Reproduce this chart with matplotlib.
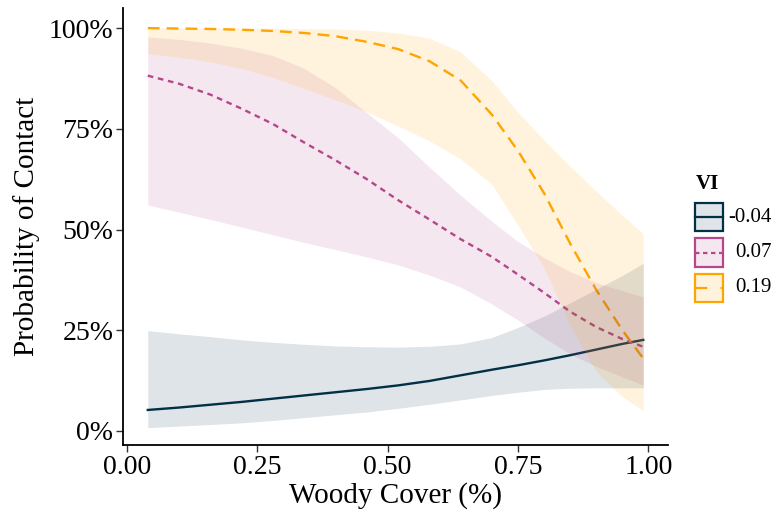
import matplotlib
matplotlib.use("Agg")
import matplotlib.pyplot as plt
from matplotlib.patches import Rectangle
from matplotlib.lines import Line2D
from matplotlib.ticker import FuncFormatter

plt.rcParams["font.family"] = ["Liberation Serif", "DejaVu Serif"]

# woody cover grid shared by every curve
woody = [0.04, 0.10, 0.16, 0.22, 0.28, 0.34, 0.40, 0.46, 0.52,
         0.58, 0.64, 0.70, 0.75, 0.80, 0.85, 0.90, 0.95, 0.99]

# VI = -0.04
fit_neg = [0.052, 0.058, 0.065, 0.072, 0.080, 0.088, 0.096, 0.104, 0.113,
           0.124, 0.138, 0.152, 0.163, 0.175, 0.188, 0.202, 0.216, 0.226]
hi_neg = [0.249, 0.241, 0.234, 0.226, 0.220, 0.215, 0.211, 0.209, 0.208,
          0.210, 0.216, 0.232, 0.257, 0.285, 0.318, 0.352, 0.386, 0.416]
lo_neg = [0.008, 0.012, 0.016, 0.020, 0.026, 0.033, 0.040, 0.047, 0.056,
          0.066, 0.077, 0.088, 0.096, 0.103, 0.106, 0.107, 0.107, 0.107]

# VI = 0.07
fit_mid = [0.882, 0.862, 0.835, 0.800, 0.762, 0.716, 0.672, 0.625, 0.573,
           0.525, 0.476, 0.432, 0.388, 0.343, 0.296, 0.258, 0.228, 0.209]
hi_mid = [0.978, 0.972, 0.963, 0.950, 0.932, 0.900, 0.852, 0.790, 0.728,
          0.655, 0.585, 0.520, 0.470, 0.430, 0.395, 0.368, 0.348, 0.333]
lo_mid = [0.561, 0.543, 0.525, 0.506, 0.487, 0.468, 0.450, 0.432, 0.412,
          0.387, 0.357, 0.315, 0.275, 0.231, 0.191, 0.160, 0.134, 0.114]

# VI = 0.19
fit_hi = [1.000, 0.999, 0.998, 0.996, 0.993, 0.988, 0.980, 0.966, 0.948,
          0.918, 0.870, 0.785, 0.695, 0.590, 0.465, 0.350, 0.250, 0.180]
hi_hi = [1.000, 1.000, 1.000, 1.000, 1.000, 0.999, 0.998, 0.995, 0.988,
         0.975, 0.941, 0.869, 0.791, 0.722, 0.657, 0.595, 0.535, 0.490]
lo_hi = [0.937, 0.928, 0.916, 0.900, 0.878, 0.850, 0.822, 0.792, 0.757,
         0.720, 0.675, 0.612, 0.510, 0.405, 0.262, 0.147, 0.085, 0.050]

vi_labels = ["-0.04", "0.07", "0.19"]
colors = ["#023047", "#b5478a", "#ffa500"]
y_ticks = [0, 0.25, 0.5, 0.75, 1.0]
x_ticks = [0, 0.25, 0.5, 0.75, 1.0]

W, H = 775, 519
fig = plt.figure(figsize=(W / 100, H / 100), dpi=100)
ax = fig.add_axes([123 / W, 1 - 445 / H, (668 - 123) / W, (445 - 8) / H])

fits = [fit_neg, fit_mid, fit_hi]
his = [hi_neg, hi_mid, hi_hi]
los = [lo_neg, lo_mid, lo_hi]
dashes = [None, (2.4, 2.0), (5.0, 3.0)]

for fit, col, dsh in zip(fits, colors, dashes):
    line, = ax.plot(woody, fit, color=col, lw=1.7, zorder=2)
    if dsh:
        line.set_dashes(dsh)
for lo, hi, col in zip(los, his, colors):
    ax.fill_between(woody, lo, hi, color=col, alpha=0.13, lw=0, zorder=3)

ax.set_xlim(-0.0075, 1.0375)
ax.set_ylim(-0.035, 1.05)
ax.set_xticks(x_ticks)
ax.set_yticks(y_ticks)
ax.xaxis.set_major_formatter(FuncFormatter(lambda v, p: f"{v:.2f}"))
ax.yaxis.set_major_formatter(FuncFormatter(lambda v, p: f"{v * 100:.0f}%"))
ax.tick_params(labelsize=20, length=5, width=1, color="#333333", labelcolor="black", pad=2)
for side in ["top", "right"]:
    ax.spines[side].set_visible(False)
for side in ["left", "bottom"]:
    ax.spines[side].set_linewidth(1.3)
ax.set_xlabel("Woody Cover (%)", fontsize=21, labelpad=2)
ax.set_ylabel("Probability of Contact", fontsize=21, labelpad=6)


def fx(px):
    return px / W


def fy(py):
    return 1 - py / H


# legend drawn by hand
fig.text(fx(696), fy(184), "VI", fontsize=15, fontweight="bold", va="center", ha="left")
tops = [203, 238.5, 274]
for top, col, lab, dsh in zip(tops, colors, vi_labels, dashes):
    fig.add_artist(Rectangle((fx(694.5), fy(top + 28)), 28 / W, 28 / H,
                             transform=fig.transFigure, facecolor=col, alpha=0.13, lw=0))
    fig.add_artist(Rectangle((fx(694.5), fy(top + 28)), 28 / W, 28 / H,
                             transform=fig.transFigure, facecolor="none", edgecolor=col, lw=1.6))
    ln = Line2D([fx(694.5), fx(722.5)], [fy(top + 14), fy(top + 14)],
                transform=fig.transFigure, color=col, lw=1.6)
    if dsh:
        ln.set_dashes((2.0, 1.6) if dsh[0] < 3 else (5.5, 6.0))
    fig.add_artist(ln)
    fig.text(fx(772), fy(top + 14), lab, fontsize=15, va="center", ha="right")

fig.savefig("out.png", dpi=100)
